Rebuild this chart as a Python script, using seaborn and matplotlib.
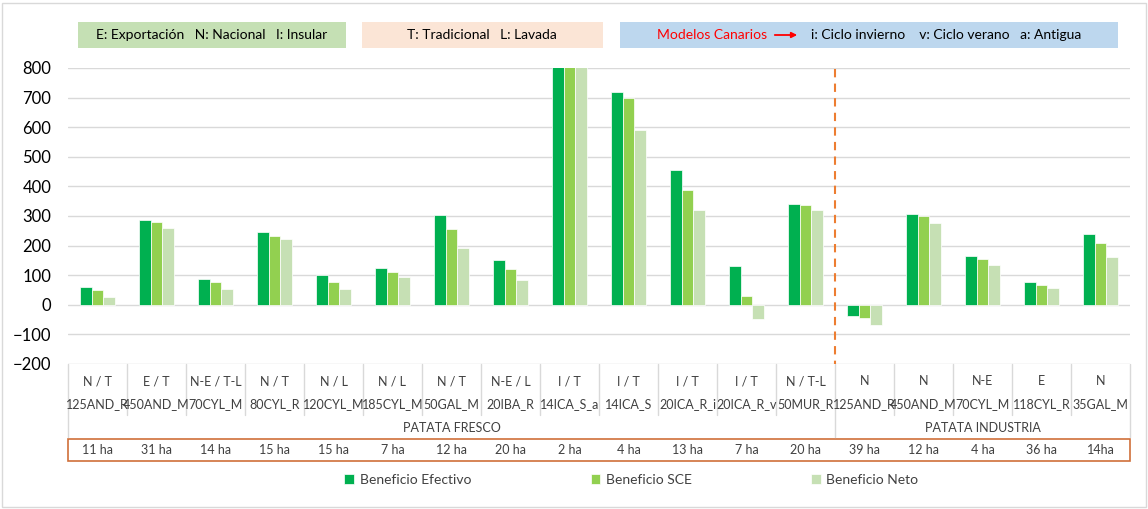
import pandas as pd
import seaborn as sns
import matplotlib.pyplot as plt
from matplotlib.patches import Rectangle, FancyArrowPatch

# datos
modelos = ['125AND_R', '450AND_M', '70CYL_M', '80CYL_R', '120CYL_M', '185CYL_M', '50GAL_M',
           '20IBA_R', '14ICA_S_a', '14ICA_S', '20ICA_R_i', '20ICA_R_v', '50MUR_R',
           '125AND_R', '450AND_M', '70CYL_M', '118CYL_R', '35GAL_M']
tipos = ['N / T', 'E / T', 'N-E / T-L', 'N / T', 'N / L', 'N / L', 'N / T', 'N-E / L',
         'I / T', 'I / T', 'I / T', 'I / T', 'N / T-L', 'N', 'N', 'N-E', 'E', 'N']
superficie = ['11 ha', '31 ha', '14 ha', '15 ha', '15 ha', '7 ha', '12 ha', '20 ha', '2 ha',
              '4 ha', '13 ha', '7 ha', '20 ha', '39 ha', '12 ha', '4 ha', '36 ha', '14ha']
grupos = ['PATATA FRESCO', 'PATATA INDUSTRIA']
n_fresco = 13

ben_efectivo = [59, 288, 86, 245, 101, 124, 303, 153, 860, 720, 457, 132, 342, -37, 308, 165, 76, 239]
ben_sce = [51, 279, 76, 231, 78, 111, 255, 120, 840, 700, 387, 29, 336, -45, 299, 156, 67, 209]
ben_neto = [28, 259, 52, 221, 54, 93, 191, 84, 820, 590, 319, -48, 319, -67, 278, 135, 57, 163]
series = ['Beneficio Efectivo', 'Beneficio SCE', 'Beneficio Neto']
colores = ['#00B050', '#92D050', '#C6E0B4']

n = len(modelos)
df = pd.DataFrame({
    'pos': list(range(n)) * 3,
    'valor': ben_efectivo + ben_sce + ben_neto,
    'serie': [s for s in series for _ in range(n)],
})

sns.set_style('white')
plt.rcParams['font.family'] = ['Lato', 'DejaVu Sans']

W, H = 1148, 509
fig = plt.figure(figsize=(W / 100, H / 100), dpi=100)
L, R, T, B = 68, 1130, 68, 364
ax = fig.add_axes([L / W, 1 - B / H, (R - L) / W, (B - T) / H])

sns.barplot(data=df, x='pos', y='valor', hue='serie', hue_order=series, palette=colores,
            saturation=1, width=0.58, edgecolor='white', linewidth=0.5, ax=ax, zorder=3)

ax.set_ylim(-200, 800)
ax.set_xlim(-0.5, n - 0.5)
ax.set_yticks(range(-200, 801, 100))
ax.tick_params(axis='y', labelsize=12, length=0, pad=12, labelcolor='#000000')
ax.set_xticks([])
ax.set_xlabel('')
ax.set_ylabel('')
for sp in ax.spines.values():
    sp.set_visible(False)
ax.grid(axis='y', color='#D9D9D9', linewidth=1, zorder=0)
ax.set_axisbelow(True)

# linea separadora fresco / industria
ax.plot([n_fresco - 0.5, n_fresco - 0.5], [795, -200], color='#ED7D31', lw=1.5,
        dashes=(4, 3), zorder=4)

# tabla de categorias bajo el eje
tr = ax.get_xaxis_transform()
def ay(px):
    return (B - px) / (B - T)

for i in range(n):
    ax.text(i, ay(381), tipos[i], transform=tr, ha='center', va='center', fontsize=9, color='#404040')
    ax.text(i, ay(404), modelos[i], transform=tr, ha='center', va='center', fontsize=9, color='#404040')
    ax.text(i, ay(450), superficie[i], transform=tr, ha='center', va='center', fontsize=9, color='#404040')
for i in range(n + 1):
    fin = 437 if i in (0, n_fresco, n) else 415
    ax.plot([i - 0.5, i - 0.5], [ay(364), ay(fin)], transform=tr, color='#D9D9D9', lw=1, clip_on=False)
ax.text((n_fresco - 1) / 2, ay(428), grupos[0], transform=tr, ha='center', va='center',
        fontsize=9, color='#404040')
ax.text((n_fresco + n - 1) / 2, ay(428), grupos[1], transform=tr, ha='center', va='center',
        fontsize=9, color='#404040')
ax.add_patch(Rectangle((0, ay(461)), 1, ay(439) - ay(461), transform=ax.transAxes, fill=False,
                       edgecolor='#D0703A', lw=1.2, clip_on=False))

# leyenda inferior
handles, labels = ax.get_legend_handles_labels()
ax.legend(handles, labels, loc='center', bbox_to_anchor=(0.55, 1 - 480 / H),
          bbox_transform=fig.transFigure, ncol=3, frameon=False, fontsize=10,
          handlelength=0.7, handleheight=0.7, handletextpad=0.4, columnspacing=8.6,
          labelcolor='#404040')

# cuadros superiores
def caja(x0, x1, color):
    fig.patches.append(Rectangle((x0 / W, 1 - 48 / H), (x1 - x0) / W, 26 / H,
                                 transform=fig.transFigure, facecolor=color, edgecolor='none'))

caja(78, 346, '#C5E0B4')
caja(362, 603, '#FBE5D6')
caja(620, 1118, '#BDD7EE')
yc = 1 - 35 / H
fig.text(212 / W, yc, 'E: Exportación   N: Nacional   I: Insular', ha='center', va='center',
         fontsize=10, color='#000000')
fig.text(482 / W, yc, 'T: Tradicional   L: Lavada', ha='center', va='center',
         fontsize=10, color='#000000')
fig.text(657 / W, yc, 'Modelos Canarios', ha='left', va='center', fontsize=10, color='#FF0000')
fig.patches.append(FancyArrowPatch((772 / W, yc), (800 / W, yc), transform=fig.transFigure,
                                   arrowstyle='-|>', mutation_scale=8, color='#FF0000', lw=1.3))
fig.text(811 / W, yc, 'i: Ciclo invierno    v: Ciclo verano   a: Antigua', ha='left',
         va='center', fontsize=10, color='#000000')

# borde del area del grafico
fig.patches.append(Rectangle((2 / W, 2 / H), (W - 4) / W, (H - 5) / H, transform=fig.transFigure,
                             fill=False, edgecolor='#D9D9D9', lw=1))

fig.savefig('out.png', dpi=100)
